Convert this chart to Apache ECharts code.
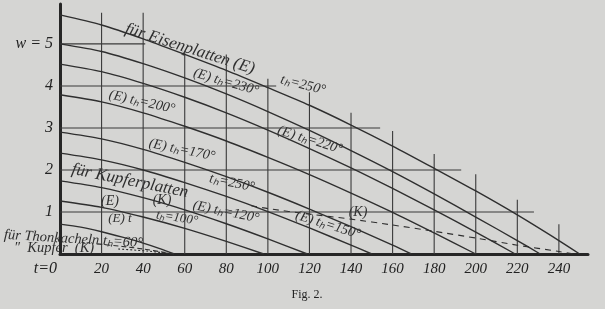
<!DOCTYPE html>
<html>
<head>
<meta charset="utf-8">
<script src="https://cdn.jsdelivr.net/npm/echarts@6/dist/echarts.min.js"></script>
<style>
html,body{margin:0;padding:0;background:#d5d5d3;}
#c{width:605px;height:309px;}
</style>
</head>
<body>
<div id="c"></div>
<script>
// x: temperature t (°C), y: w
const xTickLabels = [20,40,60,80,100,120,140,160,180,200,220,240];
const yTickLabels = [1,2,3,4,5];

// Eisenplatten (E) curves, one per t_h
const curveE250 = [[0,5.69],[20,5.45],[40,5.12],[60,4.75],[80,4.37],[100,3.96],[120,3.54],[140,3.07],[160,2.57],[180,2.04],[200,1.50],[220,0.93],[240,0.32],[250,0]];
const curveE230 = [[0,5.00],[20,4.82],[40,4.53],[60,4.19],[80,3.81],[100,3.39],[120,2.94],[140,2.46],[160,1.96],[180,1.43],[200,0.88],[220,0.32],[231,0]];
const curveE220 = [[0,4.52],[20,4.34],[40,4.06],[60,3.73],[80,3.36],[100,2.95],[120,2.51],[140,2.05],[160,1.56],[180,1.05],[200,0.52],[219,0]];
const curveE200 = [[0,3.79],[20,3.62],[40,3.36],[60,3.04],[80,2.69],[100,2.30],[120,1.89],[140,1.45],[160,0.99],[180,0.50],[200,0]];
const curveE170 = [[0,2.90],[20,2.74],[40,2.49],[60,2.18],[80,1.84],[100,1.47],[120,1.07],[140,0.65],[160,0.21],[169,0]];
const curveE150 = [[0,2.40],[20,2.24],[40,2.00],[60,1.70],[80,1.37],[100,1.01],[120,0.62],[140,0.21],[150,0]];
const curveE120 = [[0,1.74],[20,1.58],[40,1.34],[60,1.05],[80,0.72],[100,0.36],[119,0]];
const curveE100 = [[0,1.26],[20,1.11],[40,0.88],[60,0.61],[80,0.30],[98,0]];
// Thonkacheln t_h = 60°
const curveTon60 = [[0,0.71],[10,0.64],[20,0.53],[30,0.40],[40,0.26],[48,0.13],[55,0]];
// Kupfer (K), dashed
const curveK250 = [[92,1.15],[100,1.08],[120,0.95],[140,0.83],[160,0.69],[180,0.54],[200,0.38],[220,0.21],[240,0.06],[247,0]];
const curveK60a = [[18,0.24],[30,0.18],[40,0.12],[50,0.04],[55,0]];
const curveK60b = [[28,0.12],[42,0.07],[55,0]];

// partial grid
const gridX = [20,40,60,80,100,120,140,160,180,200,220,240];
const gridXTop = [5.74,5.74,4.80,4.75,4.17,3.85,3.36,2.93,2.38,1.90,1.29,0.71];
const gridW = [1,2,3,4,5];
const gridWEnd = [228,193,154,104,41];

const INK = '#2f2f2f';
const HAND = 'italic 14px "Liberation Serif", serif';
const HANDS = 'italic 13px "Liberation Serif", serif';
const HANDL = 'italic 17px "Liberation Serif", serif';

function solid(data){
  return {type:'line', data:data, showSymbol:false, smooth:0.25,
    lineStyle:{color:INK, width:1.4}, silent:true, z:3};
}
function dashed(data, dash){
  return {type:'line', data:data, showSymbol:false, smooth:0.25,
    lineStyle:{color:INK, width:1.1, type:dash}, silent:true, z:3};
}

const segs = [];
gridX.forEach((x,i)=>segs.push([x,0,x,gridXTop[i]]));
gridW.forEach((w,i)=>segs.push([0,w,gridWEnd[i],w]));

const chart = echarts.init(document.getElementById('c'), null, {renderer:'canvas'});
const option = {
  backgroundColor:'#d5d5d3',
  animation:false,
  grid:{left:60, right:17, top:4, bottom:55},
  xAxis:{type:'value', min:0, max:254, interval:20,
    axisLine:{show:true, lineStyle:{color:'#262626', width:3}},
    axisTick:{show:false}, splitLine:{show:false},
    axisLabel:{margin:8, color:'#222', fontStyle:'italic', fontSize:15, fontFamily:'Liberation Serif',
      showMaxLabel:false,
      formatter:v=> xTickLabels.indexOf(v)>=0 ? String(v) : ''}
  },
  yAxis:{type:'value', min:0, max:5.95, interval:1,
    axisLine:{show:true, onZero:false, lineStyle:{color:'#262626', width:3}},
    axisTick:{show:false}, splitLine:{show:false},
    axisLabel:{margin:7, color:'#222', fontStyle:'italic', fontSize:16, fontFamily:'Liberation Serif',
      showMaxLabel:false,
      formatter:v=> v===5 ? 'w = 5' : (yTickLabels.indexOf(v)>=0 ? String(v) : '')}
  },
  series:[
    {type:'custom', data:segs, silent:true, z:2,
      renderItem:(params, api)=>{
        const p0 = api.coord([api.value(0), api.value(1)]);
        const p1 = api.coord([api.value(2), api.value(3)]);
        return {type:'line', shape:{x1:p0[0],y1:p0[1],x2:p1[0],y2:p1[1]},
          style:{stroke:'#3a3a3a', lineWidth:1.1}};
      }},
    solid(curveE250), solid(curveE230), solid(curveE220), solid(curveE200),
    solid(curveE170), solid(curveE150), solid(curveE120), solid(curveE100),
    solid(curveTon60),
    dashed(curveK250, [6,5]),
    dashed(curveK60a, [5,3]),
    dashed(curveK60b, [2,2])
  ],
  graphic:[
    {type:'text', x:190, y:49, rotation:-0.31, style:{text:'für Eisenplatten (E)', font:HANDL, fill:INK, align:'center', verticalAlign:'middle'}},
    {type:'text', x:226, y:82, rotation:-0.28, style:{text:'(E) tₕ=230°', font:HAND, fill:INK, align:'center', verticalAlign:'middle'}},
    {type:'text', x:303, y:85, rotation:-0.25, style:{text:'tₕ=250°', font:HAND, fill:INK, align:'center', verticalAlign:'middle'}},
    {type:'text', x:142, y:102, rotation:-0.22, style:{text:'(E) tₕ=200°', font:HAND, fill:INK, align:'center', verticalAlign:'middle'}},
    {type:'text', x:182, y:150, rotation:-0.2, style:{text:'(E) tₕ=170°', font:HAND, fill:INK, align:'center', verticalAlign:'middle'}},
    {type:'text', x:310, y:140, rotation:-0.3, style:{text:'(E) tₕ=220°', font:HAND, fill:INK, align:'center', verticalAlign:'middle'}},
    {type:'text', x:130, y:181, rotation:-0.2, style:{text:'für Kupferplatten', font:HANDL, fill:INK, align:'center', verticalAlign:'middle'}},
    {type:'text', x:232, y:183, rotation:-0.2, style:{text:'tₕ=250°', font:HAND, fill:INK, align:'center', verticalAlign:'middle'}},
    {type:'text', x:110, y:201, style:{text:'(E)', font:HAND, fill:INK, align:'center', verticalAlign:'middle'}},
    {type:'text', x:162, y:200, style:{text:'(K)', font:HAND, fill:INK, align:'center', verticalAlign:'middle'}},
    {type:'text', x:177, y:218, rotation:-0.15, style:{text:'tₕ=100°', font:HANDS, fill:INK, align:'center', verticalAlign:'middle'}},
    {type:'text', x:226, y:212, rotation:-0.2, style:{text:'(E) tₕ=120°', font:HAND, fill:INK, align:'center', verticalAlign:'middle'}},
    {type:'text', x:328, y:225, rotation:-0.3, style:{text:'(E) tₕ=150°', font:HAND, fill:INK, align:'center', verticalAlign:'middle'}},
    {type:'text', x:358, y:212, style:{text:'(K)', font:HAND, fill:INK, align:'center', verticalAlign:'middle'}},
    {type:'text', x:120, y:219, style:{text:'(E) t', font:HANDS, fill:INK, align:'center', verticalAlign:'middle'}},
    {type:'text', x:4, y:235, rotation:-0.06, style:{text:'für Thonkacheln tₕ=60°', font:'italic 14.5px "Liberation Serif", serif', fill:INK, align:'left', verticalAlign:'middle'}},
    {type:'text', x:14, y:248, style:{text:'″  Kupfer  (K)', font:'italic 14.5px "Liberation Serif", serif', fill:INK, align:'left', verticalAlign:'middle'}},
    {type:'text', x:57, y:269, style:{text:'t=0', font:'italic 16px "Liberation Serif", serif', fill:'#222', align:'right', verticalAlign:'middle'}},
    {type:'text', x:307, y:295, style:{text:'Fig. 2.', font:'12px "Liberation Serif", serif', fill:'#222', align:'center', verticalAlign:'middle'}}
  ]
};
chart.setOption(option);
</script>
</body>
</html>
